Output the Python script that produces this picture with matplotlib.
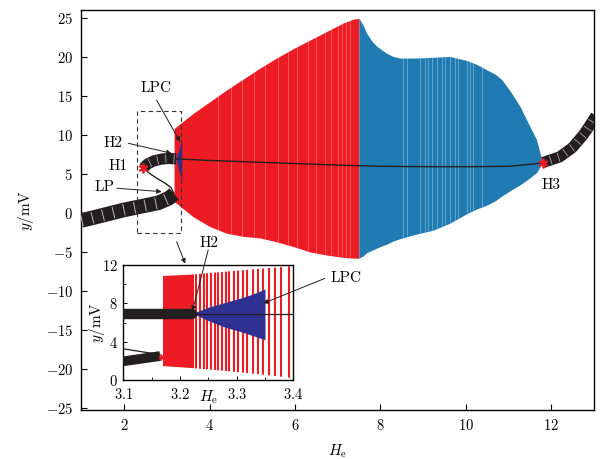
import matplotlib
matplotlib.use("Agg")
import matplotlib.pyplot as plt
from matplotlib.patches import Rectangle
from matplotlib.ticker import MultipleLocator

plt.rcParams.update({
    "font.family": "serif",
    "font.serif": ["cmr10", "DejaVu Serif"],
    "mathtext.fontset": "cm",
    "axes.formatter.use_mathtext": True,
    "font.size": 10.5,
})

RED = "#ed1c24"
BLUE = "#1f7bb2"
NAVY = "#2e3192"
BLACK = "#231f20"

# ---------------- data ----------------
# stable equilibrium branches (thick)
low_he = [1.0, 1.2, 2.0, 2.8, 3.05, 3.17]
low_y = [-0.95, -0.7, 0.4, 1.3, 1.9, 2.45]
up1_he = [2.45, 2.55, 2.7, 2.9, 3.05, 3.22]
up1_y = [5.75, 6.3, 6.7, 6.95, 7.0, 6.95]
up2_he = [11.8, 11.9, 12.2, 12.5, 12.75, 12.9, 13.05]
up2_y = [6.45, 6.65, 7.2, 8.4, 10.0, 11.2, 12.5]
# unstable equilibrium branches (thin)
uns1_he = [3.17, 3.1, 2.97, 2.77, 2.62, 2.5, 2.45]
uns1_y = [2.45, 3.25, 3.8, 4.45, 5.0, 5.5, 5.75]
uns2_he = [3.22, 4.0, 5.0, 6.0, 7.0, 7.5, 8.0, 9.0, 10.0, 11.0, 11.3, 11.6, 11.8]
uns2_y = [6.95, 6.75, 6.55, 6.35, 6.15, 6.08, 6.0, 5.95, 5.94, 6.0, 6.15, 6.3, 6.45]

# periodic orbit envelope, red part
red_he = [3.17, 3.62, 4.01, 4.40, 4.79, 5.18, 5.57, 5.96, 6.35, 6.74, 7.13, 7.37, 7.5]
red_max = [10.85, 12.8, 14.3, 15.8, 17.2, 18.6, 19.9, 21.1, 22.2, 23.3, 24.4, 24.9, 25.0]
red_min = [1.5, -0.5, -1.75, -2.6, -3.0, -3.2, -3.7, -4.3, -5.0, -5.4, -5.7, -5.8, -5.8]
red_stripes = [4.2, 4.5, 4.75, 5.05, 5.3, 5.6, 5.85, 6.05, 6.3, 6.5, 6.7, 6.85,
               7.0, 7.1, 7.2, 7.3]
# periodic orbit envelope, blue part
blue_he = [7.5, 7.6, 7.68, 7.8, 7.92, 8.05, 8.15, 8.3, 8.46, 8.85, 9.24, 9.63,
           10.02, 10.25, 10.49, 10.7, 10.85, 11.05, 11.27, 11.45, 11.66, 11.8]
blue_max = [25.0, 24.1, 23.1, 22.1, 21.4, 20.9, 20.5, 20.1, 19.9, 19.9, 20.0,
            20.1, 19.6, 19.1, 18.4, 17.8, 17.1, 15.6, 13.7, 11.7, 9.4, 6.45]
blue_min = [-5.8, -5.5, -5.1, -4.8, -4.5, -4.2, -4.0, -3.6, -3.3, -2.7, -2.2,
            -1.3, -0.1, 0.5, 1.0, 1.6, 2.2, 2.9, 3.6, 4.3, 5.2, 6.45]
blue_stripes = [8.53, 8.63, 8.93, 9.05, 9.12, 9.21, 9.33, 9.45, 9.52, 9.64,
                9.75, 9.82, 10.03, 10.10, 10.17, 10.38]
# navy part (between H2 and LPC)
navy_he = [3.222, 3.25, 3.28, 3.31, 3.33, 3.35]
navy_max = [6.95, 7.6, 8.1, 8.6, 9.0, 9.5]
navy_min = [6.95, 6.2, 5.5, 5.0, 4.6, 4.2]

# inset data
in_red_he = [3.17, 3.22, 3.28, 3.34, 3.40]
in_red_max = [10.85, 11.0, 11.3, 11.6, 11.9]
in_red_min = [1.45, 1.25, 0.95, 0.6, 0.2]
in_red_block = [3.17, 3.225]
in_red_lines = [3.228, 3.235, 3.242, 3.248, 3.254, 3.261, 3.267, 3.274, 3.281,
                3.287, 3.295, 3.303, 3.311, 3.319, 3.328, 3.337, 3.347, 3.357,
                3.368, 3.378, 3.392]
in_up_he = [3.10, 3.222]
in_up_y = [6.9, 6.9]
in_low_he = [3.10, 3.165]
in_low_y = [1.95, 2.5]
in_uns1_he = [3.10, 3.165]
in_uns1_y = [3.25, 2.65]
in_uns2_he = [3.222, 3.40]
in_uns2_y = [6.9, 6.9]

special_pts = {"H1": (2.45, 5.75), "H3": (11.8, 6.45)}

# ---------------- figure ----------------
fig = plt.figure(figsize=(6.0, 4.59), dpi=100)
ax = fig.add_axes([81.4 / 600, 1 - 410 / 459, 512.4 / 600, 400 / 459])


def band(a, x, y, lw):
    a.plot(x, y, color=BLACK, lw=lw, solid_capstyle="butt",
           solid_joinstyle="round", zorder=6)
    a.plot(x, y, color="#cfcfcf", lw=lw * 0.8, ls=(0, (0.08, 0.85)),
           dash_capstyle="butt", zorder=7, alpha=0.9)


# red region
poly_r = ax.fill_between(red_he, red_min, red_max, color=RED, lw=0, zorder=2)
sr = ax.vlines(red_stripes, -30, 30, color="white", lw=0.6, alpha=0.3, zorder=2.1)
sr.set_clip_path(poly_r.get_paths()[0], ax.transData)
# blue region
poly_b = ax.fill_between(blue_he, blue_min, blue_max, color=BLUE, lw=0, zorder=2)
sb = ax.vlines(blue_stripes, -30, 30, color="white", lw=0.6, alpha=0.35, zorder=2.1)
sb.set_clip_path(poly_b.get_paths()[0], ax.transData)
# navy
ax.fill_between(navy_he, navy_min, navy_max, color=NAVY, lw=0, zorder=3)

# unstable (thin)
ax.plot(uns1_he, uns1_y, color=BLACK, lw=1.0, zorder=4)
ax.plot(uns2_he, uns2_y, color=BLACK, lw=1.0, zorder=4)
# stable (thick)
band(ax, low_he, low_y, 10.5)
band(ax, up1_he, up1_y, 8.0)
band(ax, up2_he, up2_y, 8.0)

for k, (hx, hy) in special_pts.items():
    ax.plot(hx, hy, marker=(6, 2, 0), color=RED, ms=7, mew=1.3, zorder=8)

# dashed zoom rectangle
ax.add_patch(Rectangle((2.3, -2.52), 1.03, 15.66, fill=False, ls=(0, (4, 3)),
                       lw=0.8, ec="#333333", zorder=9))

ax.set_xlim(1, 13)
ax.set_ylim(-25.3, 26.07)
ax.set_xticks([2, 4, 6, 8, 10, 12])
ax.set_yticks(range(-25, 26, 5))
ax.tick_params(direction="in", length=4, width=0.8, top=False, right=False,
               pad=6, labelsize=10.5)
for s in ax.spines.values():
    s.set_linewidth(1.0)
ax.set_xlabel(r"$H_{\rm e}$", fontsize=11)
ax.set_ylabel(r"$y/{\rm mV}$", fontsize=11)
ax.xaxis.set_label_coords(0.5, -0.08)
ax.yaxis.set_label_coords(-0.088, 0.5)

arrow = dict(arrowstyle="-|>", color=BLACK, lw=0.7, mutation_scale=7,
             shrinkA=0, shrinkB=0)
ax.text(2.76, 16.0, "LPC", ha="center", va="center", fontsize=11)
ax.annotate("", xy=(3.31, 9.15), xytext=(2.76, 14.5), arrowprops=arrow, zorder=10)
ax.text(1.75, 8.95, "H2", ha="center", va="center", fontsize=11)
ax.annotate("", xy=(3.11, 7.67), xytext=(2.10, 8.95), arrowprops=arrow, zorder=10)
ax.text(1.86, 6.04, "H1", ha="center", va="center", fontsize=11)
ax.text(1.55, 3.3, "LP", ha="center", va="center", fontsize=11)
ax.annotate("", xy=(2.88, 2.74), xytext=(1.83, 3.18), arrowprops=arrow, zorder=10)
ax.text(12.01, 3.6, "H3", ha="center", va="center", fontsize=11)

# ---------------- inset ----------------
axi = fig.add_axes([123.3 / 600, 1 - 380 / 459, 170 / 600, 115 / 459])
poly_i = axi.fill_between(in_red_he, in_red_min, in_red_max, color=RED, lw=0,
                          alpha=0.0)
blk = axi.fill_between(in_red_block, [0, 0], [13, 13], color=RED, lw=0, zorder=1)
blk.set_clip_path(poly_i.get_paths()[0], axi.transData)
vl = axi.vlines(in_red_lines, 0, 13, color=RED, lw=1.5, zorder=1)
vl.set_clip_path(poly_i.get_paths()[0], axi.transData)
axi.fill_between(navy_he, navy_min, navy_max, color=NAVY, lw=0, zorder=2)
axi.plot(in_uns1_he, in_uns1_y, color=BLACK, lw=0.9, zorder=3)
axi.plot(in_uns2_he, in_uns2_y, color=BLACK, lw=0.9, zorder=3)
axi.plot(in_up_he, in_up_y, color=BLACK, lw=7.5, solid_capstyle="round", zorder=4)
axi.plot(in_low_he, in_low_y, color=BLACK, lw=7, solid_capstyle="butt", zorder=4)
axi.plot(3.167, 2.45, marker=(6, 2, 0), color=RED, ms=4, mew=1.0, zorder=5)
axi.set_xlim(3.1, 3.4)
axi.set_ylim(0, 12)
axi.set_xticks([3.1, 3.2, 3.3, 3.4])
axi.set_yticks([0, 4, 8, 12])
axi.xaxis.set_minor_locator(MultipleLocator(0.05))
axi.yaxis.set_minor_locator(MultipleLocator(2))
axi.tick_params(which="both", direction="in", top=False, right=False,
                labelsize=10.5)
axi.tick_params(axis="x", pad=5)
axi.tick_params(axis="y", pad=4)
axi.tick_params(which="major", length=3, width=0.7)
axi.tick_params(which="minor", length=2, width=0.6)
for s in axi.spines.values():
    s.set_linewidth(1.0)
axi.set_xlabel(r"$H_{\rm e}$", fontsize=11)
axi.xaxis.set_label_coords(0.5, -0.07)
axi.set_ylabel(r"$y/{\rm mV}$", fontsize=11)
axi.yaxis.set_label_coords(-0.095, 0.5)

# annotations that point into the inset (drawn on top of it)
axi.annotate("", xy=(3.43, -6.5), xycoords=ax.transData, xytext=(3.23, -3.68),
             textcoords=ax.transData, arrowprops=arrow, annotation_clip=False)
ax.text(3.99, -3.9, "H2", ha="center", va="center", fontsize=11)
axi.annotate("", xy=(3.222, 7.2), xycoords="data", xytext=(3.97, -4.75),
             textcoords=ax.transData, arrowprops=arrow, annotation_clip=False)
ax.text(7.21, -8.4, "LPC", ha="center", va="center", fontsize=11)
axi.annotate("", xy=(3.347, 8.0), xycoords="data", xytext=(6.70, -8.4),
             textcoords=ax.transData, arrowprops=arrow, annotation_clip=False)

fig.savefig("out.png", dpi=100)
